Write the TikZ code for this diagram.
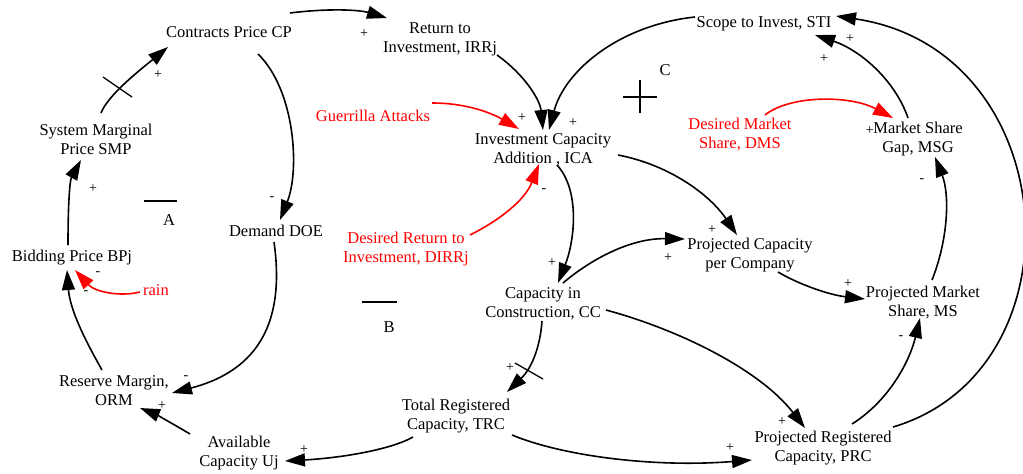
\documentclass[tikz,border=0pt]{standalone}
\usepackage{fontspec}
\setmainfont{Liberation Serif}
\usetikzlibrary{arrows.meta}
\definecolor{lred}{RGB}{255,0,0}
\tikzset{
  var/.style={align=center,inner sep=0pt,font=\fontsize{16.5}{19}\selectfont},
  exo/.style={var,text=lred},
  pol/.style={inner sep=0pt,font=\fontsize{14}{16}\selectfont},
  arr/.style={line width=1.6pt,-{Triangle[length=20pt,width=13pt]}},
  rarr/.style={arr,draw=lred,-{Triangle[length=20pt,width=13pt,fill=lred]}},
  bar/.style={line width=2.2pt},
}
\begin{document}
\begin{tikzpicture}[x=1pt,y=-1pt]
\useasboundingbox (0,0) rectangle (1023,474);
% variables
\node[var] (cp)  at (229,32)  {Contracts Price CP};
\node[var] (irr) at (440,39)  {Return to\\Investment, IRRj};
\node[var] (sti) at (764,24)  {Scope to Invest, STI};
\node[var] (smp) at (96,139)  {System Marginal\\Price SMP};
\node[var] (ica) at (543,150) {Investment Capacity\\Addition , ICA};
\node[exo] (ga)  at (373,116) {Guerrilla Attacks};
\node[exo] (dms) at (740,135) {Desired Market\\Share, DMS};
\node[var] (msg) at (918,139) {Market Share\\Gap, MSG};
\node[var] (doe) at (276,231) {Demand DOE};
\node[exo] (dirr) at (406,249) {Desired Return to\\Investment, DIRRj};
\node[var] (pcc) at (750,255) {Projected Capacity\\per Company};
\node[var] (bp)  at (72,258)  {Bidding Price BPj};
\node[exo] (rain) at (156,290) {rain};
\node[var] (cc)  at (543,304) {Capacity in\\Construction, CC};
\node[var] (ms)  at (923,303) {Projected Market\\Share, MS};
\node[var] (orm) at (114,391) {Reserve Margin,\\ORM};
\node[var] (trc) at (456,416) {Total Registered\\Capacity, TRC};
\node[var] (uj)  at (239,453) {Available\\Capacity Uj};
\node[var] (prc) at (823,448) {Projected Registered\\Capacity, PRC};
% loop labels
\node[var] (la) at (169,220) {A};
\node[var] (lb) at (389,327) {B};
\node[var] (lc) at (665,70)  {C};
\draw[bar] (144,201) -- (177,201);
\draw[bar] (362,302) -- (397,302);
\draw[bar] (623,97) -- (657,97);
\draw[bar] (640,80) -- (640,113);
% connectors
\draw[arr] ([shift={(5,-26)}]smp.center) .. controls (108,95) and (140,70) .. ([shift={(-61,15)}]cp.center);
\draw[line width=1.3pt] (103,77) -- (132,97);
\draw[arr] ([shift={(-4,-13)}]bp.center) .. controls (68,200) and (70,180) .. ([shift={(-15,21)}]smp.center);
\draw[arr] ([shift={(-12,-21)}]orm.center) .. controls (85,340) and (70,310) .. ([shift={(-5,12)}]bp.center);
\draw[rarr] ([shift={(-16,2)}]rain.center) .. controls (120,297) and (95,292) .. ([shift={(3,12)}]bp.center);
\draw[arr] ([shift={(29,22)}]cp.center) .. controls (295,90) and (300,170) .. ([shift={(4,-11)}]doe.center);
\draw[arr] ([shift={(-2,11)}]doe.center) .. controls (285,320) and (260,370) .. ([shift={(58,2)}]orm.center);
\draw[arr] ([shift={(-49,-19)}]uj.center) .. controls (175,425) and (155,414) .. ([shift={(26,17)}]orm.center);
\draw[arr] ([shift={(-43,21)}]trc.center) .. controls (390,450) and (340,458) .. ([shift={(46,8)}]uj.center);
\draw[arr] ([shift={(61,-19)}]cp.center) .. controls (330,8) and (360,10) .. ([shift={(-53,-21)}]irr.center);
\draw[arr] ([shift={(57,16)}]irr.center) .. controls (525,75) and (540,100) .. ([shift={(0,-20)}]ica.center);
\draw[arr] ([shift={(-69,-7)}]sti.center) .. controls (620,25) and (565,70) .. ([shift={(6,-20)}]ica.center);
\draw[rarr] ([shift={(59,-13)}]ga.center) .. controls (470,103) and (495,115) .. ([shift={(-24,-21)}]ica.center);
\draw[rarr] ([shift={(64,-14)}]dirr.center) .. controls (500,220) and (525,200) .. ([shift={(-4,14)}]ica.center);
\draw[arr] ([shift={(14,15)}]ica.center) .. controls (580,190) and (575,240) .. ([shift={(15,-21)}]cc.center);
\draw[arr] ([shift={(75,5)}]ica.center) .. controls (670,165) and (710,195) .. ([shift={(-13,-20)}]pcc.center);
\draw[arr] ([shift={(20,-21)}]cc.center) .. controls (590,260) and (630,238) .. ([shift={(-65,-16)}]pcc.center);
\draw[arr] ([shift={(-1,17)}]cc.center) .. controls (540,350) and (530,370) .. ([shift={(51,-24)}]trc.center);
\draw[line width=1.3pt] (515,363) -- (543,379);
\draw[arr] ([shift={(63,6)}]cc.center) .. controls (680,330) and (760,370) .. ([shift={(-18,-20)}]prc.center);
\draw[arr] ([shift={(56,19)}]trc.center) .. controls (560,455) and (650,468) .. ([shift={(-71,12)}]prc.center);
\draw[arr] ([shift={(28,17)}]pcc.center) .. controls (800,285) and (830,295) .. ([shift={(-58,-4)}]ms.center);
\draw[arr] ([shift={(29,-24)}]prc.center) .. controls (890,400) and (910,360) .. ([shift={(-3,15)}]ms.center);
\draw[arr] ([shift={(9,-23)}]ms.center) .. controls (948,240) and (950,195) .. ([shift={(17,18)}]msg.center);
\draw[arr] ([shift={(-10,-21)}]msg.center) .. controls (895,80) and (860,50) .. ([shift={(51,11)}]sti.center);
\draw[arr] ([shift={(70,-21)}]prc.center) .. controls (1085,370) and (1065,50) .. ([shift={(72,-8)}]sti.center);
\draw[rarr] ([shift={(25,-20)}]dms.center) .. controls (790,95) and (850,95) .. ([shift={(-25,-21)}]msg.center);
% polarities
\node[pol] (p1) at (158,75) {+};
\node[pol] (p2) at (93,189) {+};
\node[pol] (p3) at (98,274) {-};
\node[pol] (p4) at (86,293) {-};
\node[pol] (p5) at (272,199) {-};
\node[pol] (p6) at (186,378) {-};
\node[pol] (p7) at (162,406) {+};
\node[pol] (p8) at (304,450) {+};
\node[pol] (p9) at (364,34) {+};
\node[pol] (p10) at (522,118) {+};
\node[pol] (p11) at (573,123) {+};
\node[pol] (p12) at (544,191) {-};
\node[pol] (p13) at (552,263) {+};
\node[pol] (p14) at (712,230) {+};
\node[pol] (p15) at (668,258) {+};
\node[pol] (p16) at (510,368) {+};
\node[pol] (p17) at (782,422) {+};
\node[pol] (p18) at (730,448) {+};
\node[pol] (p19) at (848,284) {+};
\node[pol] (p20) at (901,338) {-};
\node[pol] (p21) at (922,181) {-};
\node[pol] (p22) at (824,59) {+};
\node[pol] (p23) at (850,39) {+};
\node[pol,anchor=east] (p24) at (874,131) {+};
\end{tikzpicture}
\end{document}
